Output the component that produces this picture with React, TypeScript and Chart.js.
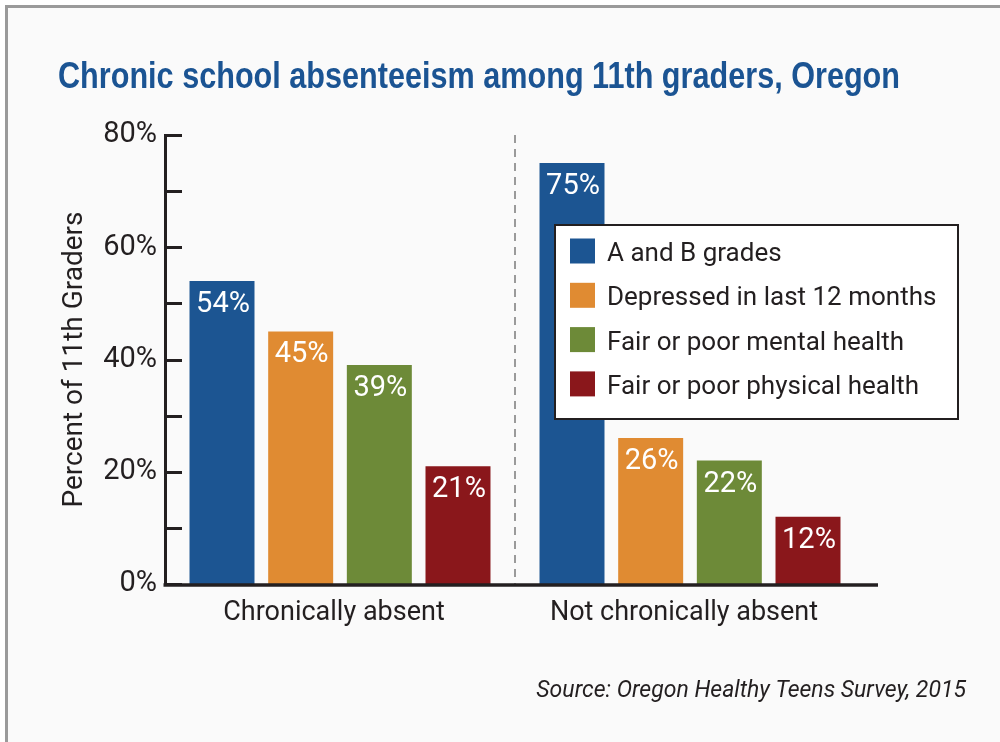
import React, { useEffect, useRef } from "react";
import { Chart, registerables } from "chart.js";

Chart.register(...registerables);

const TITLE = "Chronic school absenteeism among 11th graders, Oregon";
const Y_TITLE = "Percent of 11th Graders";
const SOURCE = "Source: Oregon Healthy Teens Survey, 2015";

const categories = ["Chronically absent", "Not chronically absent"];
const seriesLabels = [
  "A and B grades",
  "Depressed in last 12 months",
  "Fair or poor mental health",
  "Fair or poor physical health",
];
const aAndBGrades = [54, 75];
const depressed = [45, 26];
const mentalHealth = [39, 22];
const physicalHealth = [21, 12];
const seriesColors = ["#1c5592", "#e08b32", "#6d8a38", "#8a171b"];
const yMin = 0;
const yMax = 80;
const yStep = 10;
const yLabelStep = 20;

const FONT = 'Roboto, "Liberation Sans", sans-serif';
const TITLE_FONT = '"Liberation Sans", Arial, sans-serif';
const DARK = "#231f20";
const TITLE_BLUE = "#1b5493";

const decorPlugin = {
  id: "decor",
  beforeDraw(chart: any) {
    const { ctx, width, height } = chart;
    ctx.save();
    ctx.fillStyle = "#ffffff";
    ctx.fillRect(0, 0, width, height);
    ctx.fillStyle = "#9a9a9a";
    ctx.fillRect(5, 5, width - 5, height - 5);
    ctx.fillStyle = "#fafafa";
    ctx.fillRect(8, 8, width - 8, height - 8);
    // title (condensed to the reference width)
    ctx.font = `bold 37px ${TITLE_FONT}`;
    ctx.fillStyle = TITLE_BLUE;
    ctx.textAlign = "left";
    ctx.textBaseline = "alphabetic";
    ctx.fillText(TITLE, 58, 88, 842);
    ctx.restore();
  },
  beforeDatasetsDraw(chart: any) {
    const { ctx, chartArea, scales } = chart;
    const xs = scales.x;
    const xMid = (xs.getPixelForValue(0) + xs.getPixelForValue(1)) / 2;
    ctx.save();
    ctx.strokeStyle = "#9a9a9a";
    ctx.lineWidth = 2;
    ctx.setLineDash([8, 6]);
    ctx.beginPath();
    ctx.moveTo(xMid, chartArea.top);
    ctx.lineTo(xMid, chartArea.bottom);
    ctx.stroke();
    ctx.restore();
  },
  afterDatasetsDraw(chart: any) {
    const { ctx, chartArea, scales } = chart;
    const ys = scales.y;
    ctx.save();
    // value labels
    ctx.fillStyle = "#ffffff";
    ctx.font = `29px ${FONT}`;
    ctx.textAlign = "center";
    ctx.textBaseline = "alphabetic";
    chart.data.datasets.forEach((ds: any, di: number) => {
      const meta = chart.getDatasetMeta(di);
      meta.data.forEach((bar: any, i: number) => {
        ctx.fillText(`${ds.data[i]}%`, bar.x + 1, bar.y + 31);
      });
    });
    // inward tick marks
    ctx.strokeStyle = DARK;
    ctx.lineWidth = 3;
    ys.ticks.forEach((t: any) => {
      const y = Math.round(ys.getPixelForValue(t.value)) + 0.5;
      ctx.beginPath();
      ctx.moveTo(chartArea.left, y);
      ctx.lineTo(chartArea.left + 17, y);
      ctx.stroke();
    });
    // baseline
    const by = ys.getPixelForValue(0) + 1;
    ctx.lineWidth = 3.5;
    ctx.beginPath();
    ctx.moveTo(chartArea.left - 1.5, by);
    ctx.lineTo(chartArea.right + 13, by);
    ctx.stroke();
    ctx.restore();
  },
  afterDraw(chart: any) {
    const { ctx } = chart;
    ctx.save();
    // legend box
    const lx = 555, ly = 225, lw = 403, lh = 194;
    ctx.fillStyle = "#ffffff";
    ctx.fillRect(lx, ly, lw, lh);
    ctx.strokeStyle = DARK;
    ctx.lineWidth = 2;
    ctx.strokeRect(lx, ly, lw, lh);
    ctx.font = `26px ${FONT}`;
    ctx.textAlign = "left";
    ctx.textBaseline = "alphabetic";
    chart.data.datasets.forEach((ds: any, i: number) => {
      const cy = 251 + i * 44.3;
      ctx.fillStyle = ds.backgroundColor;
      ctx.fillRect(570, cy - 12.5, 25, 25);
      ctx.fillStyle = DARK;
      ctx.fillText(ds.label, 607, cy + 10);
    });
    // source
    ctx.font = `italic 23px ${FONT}`;
    ctx.textAlign = "right";
    ctx.fillStyle = DARK;
    ctx.fillText(SOURCE, 966, 697);
    ctx.restore();
  },
};

export default function App() {
  const ref = useRef<HTMLCanvasElement>(null);
  useEffect(() => {
    if (!ref.current) return;
    const seriesData = [aAndBGrades, depressed, mentalHealth, physicalHealth];
    const chart = new Chart(ref.current, {
      type: "bar",
      data: {
        labels: categories,
        datasets: seriesLabels.map((label, i) => ({
          label,
          data: seriesData[i],
          backgroundColor: seriesColors[i],
          borderWidth: 0,
          barPercentage: 0.826,
          categoryPercentage: 0.899,
        })),
      },
      options: {
        animation: false,
        responsive: false,
        devicePixelRatio: 1,
        layout: { padding: { left: 58, right: 135, top: 135, bottom: 98 } },
        plugins: {
          legend: { display: false },
          tooltip: { enabled: false },
          title: { display: false },
        },
        scales: {
          x: {
            grid: { display: false, drawTicks: false },
            border: { display: false },
            ticks: { color: DARK, font: { family: FONT, size: 27 }, padding: 13, maxRotation: 0, labelOffset: -6 },
            afterFit: (s: any) => {
              s.height = 60;
            },
          },
          y: {
            min: yMin,
            max: yMax,
            grid: { display: false, drawTicks: false },
            border: { display: true, width: 3, color: DARK },
            ticks: {
              stepSize: yStep,
              autoSkip: false,
              color: DARK,
              font: { family: FONT, size: 29 },
              padding: 8,
              callback: (v: any) => (Number(v) % yLabelStep === 0 ? `${v}%` : ""),
            },
            title: {
              display: true,
              text: Y_TITLE,
              color: DARK,
              font: { family: FONT, size: 28 },
              padding: { top: 0, bottom: 0 },
            },
            afterFit: (s: any) => {
              s.width = 107;
            },
          },
        },
      } as any,
      plugins: [decorPlugin],
    });
    return () => chart.destroy();
  }, []);
  return (
    <div style={{ position: "absolute", left: 0, top: 0, width: 1000, height: 742 }}>
      <canvas ref={ref} width={1000} height={742} style={{ display: "block" }} />
    </div>
  );
}
